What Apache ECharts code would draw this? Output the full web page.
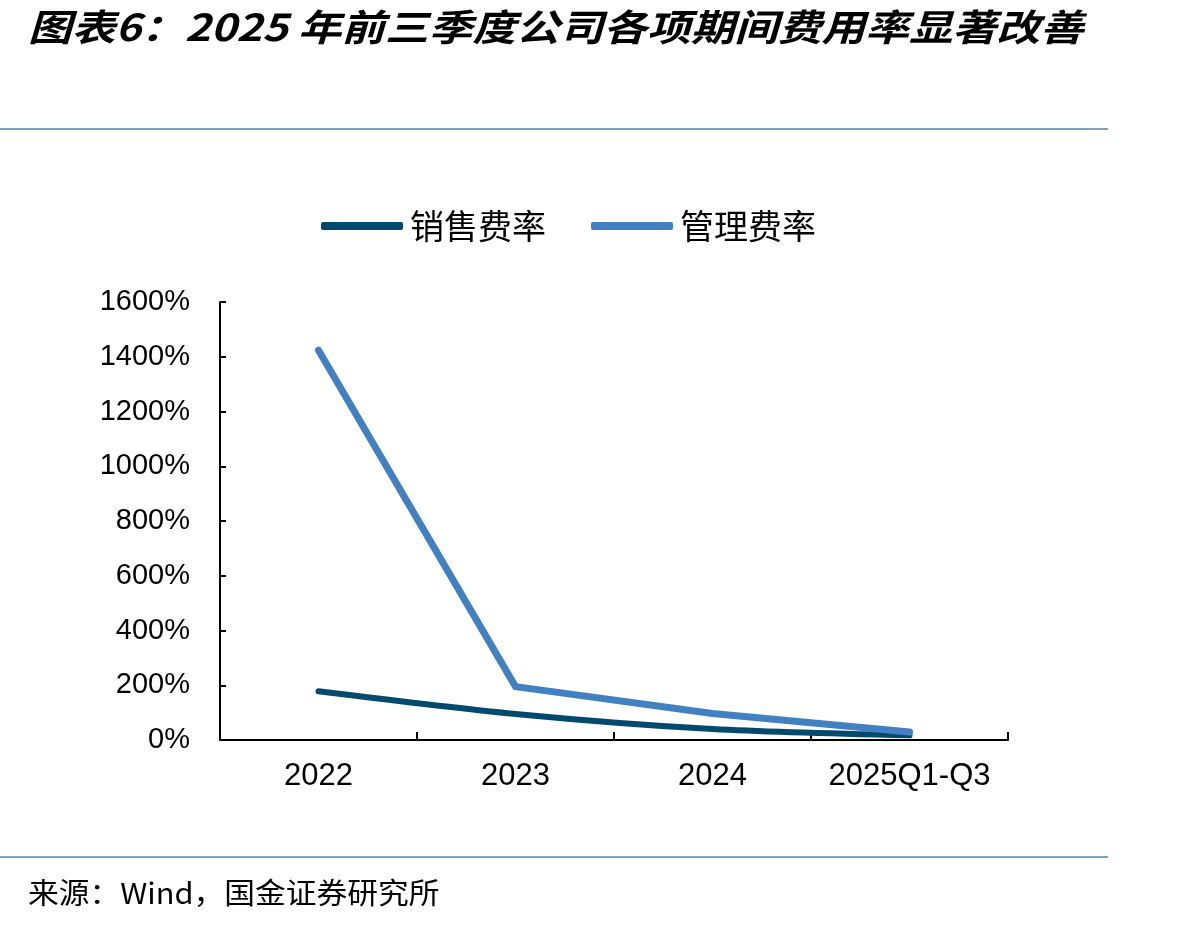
<!DOCTYPE html>
<html>
<head>
<meta charset="utf-8">
<script src="https://cdn.jsdelivr.net/npm/echarts@6/dist/echarts.min.js"></script>
<style>
  html, body { margin: 0; padding: 0; background: #fff; }
  #chart { width: 1198px; height: 927px; }
</style>
</head>
<body>
<div id="chart"></div>
<script>
// 数据
var categories = ["2022", "2023", "2024", "2025Q1-Q3"];
var salesRate = [178, 95, 40, 17];   // 销售费率 %
var adminRate = [1424, 195, 97, 29]; // 管理费率 %
var yMax = 1600;
var yStep = 200;

var cjk = '"Noto Sans CJK SC", sans-serif';
var latin = '"Liberation Sans", Arial, sans-serif';

var chart = echarts.init(document.getElementById("chart"), null, { renderer: "canvas" });

chart.setOption({
  backgroundColor: "#fff",
  animation: false,
  graphic: [
    {
      type: "text",
      x: 28,
      y: 8,
      scaleX: 1.18,
      style: {
        text: "图表6：2025 年前三季度公司各项期间费用率显著改善",
        font: "italic bold 37px " + cjk,
        fill: "#000"
      }
    },
    {
      type: "line",
      shape: { x1: 0, y1: 129, x2: 1108, y2: 129 },
      style: { stroke: "#4f86ad", lineWidth: 1.5 }
    },
    {
      type: "line",
      shape: { x1: 0, y1: 857, x2: 1108, y2: 857 },
      style: { stroke: "#4f86ad", lineWidth: 1.5 }
    },
    {
      type: "text",
      x: 28,
      y: 878,
      scaleX: 1.06,
      style: {
        text: "来源：Wind，国金证券研究所",
        font: "29px " + cjk,
        fill: "#000"
      }
    }
  ],
  legend: {
    top: 204,
    left: 316,
    icon: "roundRect",
    itemWidth: 82,
    itemHeight: 8,
    itemGap: 45,
    textStyle: { fontFamily: cjk, fontSize: 34, color: "#000", padding: [0, 0, 0, 2] },
    data: ["销售费率", "管理费率"]
  },
  grid: { left: 220, right: 190, top: 302, bottom: 187, containLabel: false },
  xAxis: {
    type: "category",
    data: categories,
    boundaryGap: true,
    axisLine: { lineStyle: { color: "#000", width: 2 } },
    axisTick: { show: true, inside: true, interval: 0, length: 8, lineStyle: { color: "#000", width: 2 } },
    axisLabel: { color: "#000", fontFamily: latin, fontSize: 31, margin: 21, interval: 0 }
  },
  yAxis: {
    type: "value",
    min: 0,
    max: yMax,
    interval: yStep,
    axisLine: { show: true, lineStyle: { color: "#000", width: 2 } },
    axisTick: { show: true, inside: true, length: 6, lineStyle: { color: "#000", width: 2 } },
    axisLabel: {
      color: "#000", fontFamily: latin, fontSize: 29, margin: 30,
      formatter: function (v) { return v + "%"; }
    },
    splitLine: { show: false }
  },
  series: [
    {
      name: "销售费率",
      type: "line",
      data: salesRate,
      smooth: 0.3,
      symbol: "none",
      itemStyle: { color: "#014a6e" },
      lineStyle: { color: "#014a6e", width: 6, cap: "round", join: "round" }
    },
    {
      name: "管理费率",
      type: "line",
      data: adminRate,
      smooth: false,
      symbol: "none",
      itemStyle: { color: "#4281c1" },
      lineStyle: { color: "#4281c1", width: 7, cap: "round", join: "round" }
    }
  ]
});
</script>
</body>
</html>
